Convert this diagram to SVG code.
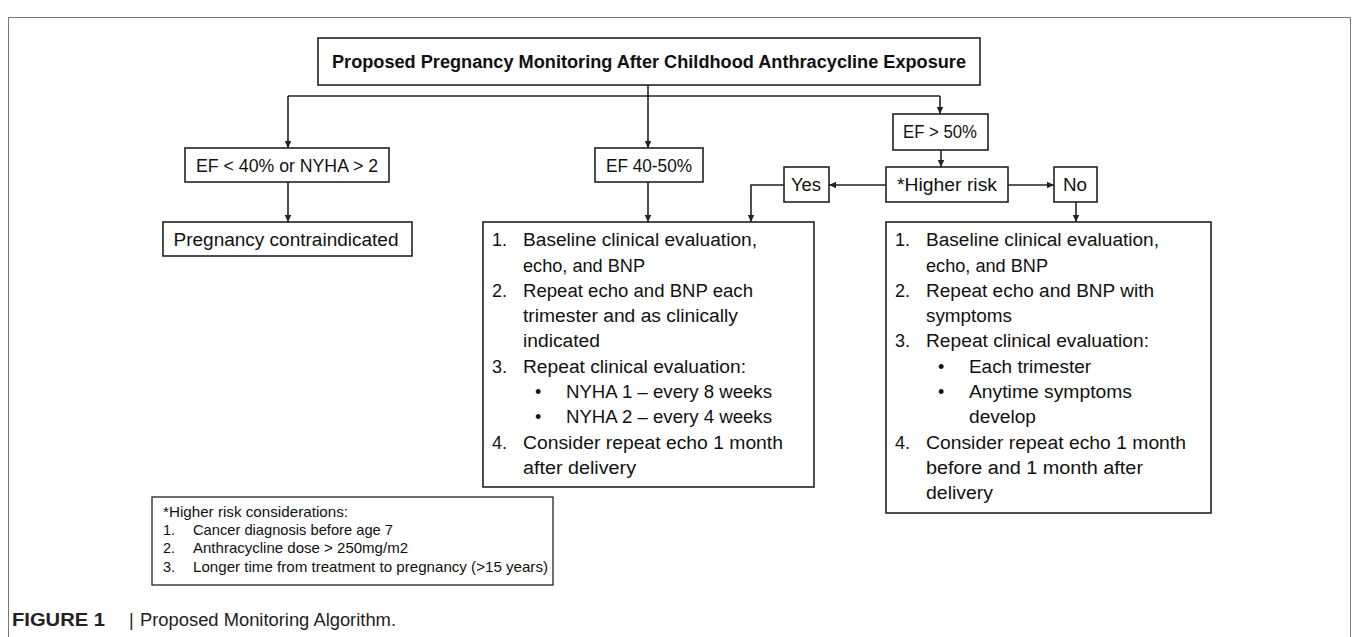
<svg xmlns="http://www.w3.org/2000/svg" width="1355" height="637" viewBox="0 0 1355 637">
<style>
.box{fill:#fff;stroke:#222;stroke-width:1.6}
.t{font-family:"Liberation Sans",Arial,sans-serif;font-size:18px;fill:#111}
.tc{text-anchor:middle}
.b{font-weight:bold}
.lg{font-family:"Liberation Sans",Arial,sans-serif;font-size:14.5px;fill:#111}
.cap{font-family:"Liberation Sans",Arial,sans-serif;font-size:18px;fill:#222}
.conn{fill:none;stroke:#222;stroke-width:1.6}
</style>
<defs>
<marker id="ah" markerUnits="userSpaceOnUse" markerWidth="8" markerHeight="8" refX="7" refY="4" orient="auto">
<path d="M0,0.8 L7,4 L0,7.2 z" fill="#222"/>
</marker>
</defs>
<rect width="1355" height="637" fill="#fff"/>
<path d="M8.5,640 V17.5 H1350.5 V640" fill="none" stroke="#777" stroke-width="1"/>

<g id="title">
<rect class="box" x="318" y="38" width="662" height="47"/>
<text class="t tc b" x="649" y="68" font-size="19" textLength="634" lengthAdjust="spacingAndGlyphs">Proposed Pregnancy Monitoring After Childhood Anthracycline Exposure</text>
</g>

<g id="ef-low">
<rect class="box" x="185" y="148" width="204" height="34"/>
<text class="t tc" x="287" y="172" textLength="182" lengthAdjust="spacingAndGlyphs">EF &lt; 40% or NYHA &gt; 2</text>
</g>

<g id="contraindicated">
<rect class="box" x="163" y="222" width="249" height="34"/>
<text class="t tc" x="286" y="246" textLength="225" lengthAdjust="spacingAndGlyphs">Pregnancy contraindicated</text>
</g>

<g id="ef-mid">
<rect class="box" x="595" y="148" width="108" height="34"/>
<text class="t tc" x="649" y="172" textLength="86" lengthAdjust="spacingAndGlyphs">EF 40-50%</text>
</g>

<g id="ef-high">
<rect class="box" x="893" y="114" width="95" height="36"/>
<text class="t tc" x="940" y="138" textLength="74" lengthAdjust="spacingAndGlyphs">EF &gt; 50%</text>
</g>

<g id="higher-risk">
<rect class="box" x="886" y="167" width="122" height="35"/>
<text class="t tc" x="947" y="191" textLength="100" lengthAdjust="spacingAndGlyphs">*Higher risk</text>
</g>

<g id="yes">
<rect class="box" x="784" y="167" width="45" height="35"/>
<text class="t tc" x="806" y="191" textLength="30" lengthAdjust="spacingAndGlyphs">Yes</text>
</g>

<g id="no">
<rect class="box" x="1054" y="167" width="43" height="35"/>
<text class="t tc" x="1075" y="191" textLength="24" lengthAdjust="spacingAndGlyphs">No</text>
</g>

<g id="plan-mid">
<rect class="box" x="483" y="222" width="331" height="265"/>
<g class="t">
<text x="492" y="246">1.</text><text x="523" y="246" textLength="234" lengthAdjust="spacingAndGlyphs">Baseline clinical evaluation,</text>
<text x="523" y="272" textLength="122" lengthAdjust="spacingAndGlyphs">echo, and BNP</text>
<text x="492" y="297">2.</text><text x="523" y="297" textLength="230" lengthAdjust="spacingAndGlyphs">Repeat echo and BNP each</text>
<text x="523" y="322" textLength="215" lengthAdjust="spacingAndGlyphs">trimester and as clinically</text>
<text x="523" y="347" textLength="77" lengthAdjust="spacingAndGlyphs">indicated</text>
<text x="492" y="373">3.</text><text x="523" y="373" textLength="223" lengthAdjust="spacingAndGlyphs">Repeat clinical evaluation:</text>
<text x="535" y="398">•</text><text x="566" y="398" textLength="206" lengthAdjust="spacingAndGlyphs">NYHA 1 – every 8 weeks</text>
<text x="535" y="423">•</text><text x="566" y="423" textLength="206" lengthAdjust="spacingAndGlyphs">NYHA 2 – every 4 weeks</text>
<text x="492" y="449">4.</text><text x="523" y="449" textLength="260" lengthAdjust="spacingAndGlyphs">Consider repeat echo 1 month</text>
<text x="523" y="474" textLength="113" lengthAdjust="spacingAndGlyphs">after delivery</text>
</g>
</g>

<g id="plan-right">
<rect class="box" x="886" y="222" width="325" height="291"/>
<g class="t">
<text x="895" y="246">1.</text><text x="926" y="246" textLength="233" lengthAdjust="spacingAndGlyphs">Baseline clinical evaluation,</text>
<text x="926" y="272" textLength="122" lengthAdjust="spacingAndGlyphs">echo, and BNP</text>
<text x="895" y="297">2.</text><text x="926" y="297" textLength="228" lengthAdjust="spacingAndGlyphs">Repeat echo and BNP with</text>
<text x="926" y="322" textLength="86" lengthAdjust="spacingAndGlyphs">symptoms</text>
<text x="895" y="347">3.</text><text x="926" y="347" textLength="223" lengthAdjust="spacingAndGlyphs">Repeat clinical evaluation:</text>
<text x="938" y="373">•</text><text x="969" y="373" textLength="122" lengthAdjust="spacingAndGlyphs">Each trimester</text>
<text x="938" y="398">•</text><text x="969" y="398" textLength="163" lengthAdjust="spacingAndGlyphs">Anytime symptoms</text>
<text x="969" y="423" textLength="67" lengthAdjust="spacingAndGlyphs">develop</text>
<text x="895" y="449">4.</text><text x="926" y="449" textLength="260" lengthAdjust="spacingAndGlyphs">Consider repeat echo 1 month</text>
<text x="926" y="474" textLength="217" lengthAdjust="spacingAndGlyphs">before and 1 month after</text>
<text x="926" y="499" textLength="67" lengthAdjust="spacingAndGlyphs">delivery</text>
</g>
</g>

<g id="legend">
<rect x="152" y="497" width="401" height="88" fill="#fff" stroke="#222" stroke-width="1.3"/>
<g class="lg">
<text x="163" y="517" textLength="185" lengthAdjust="spacingAndGlyphs">*Higher risk considerations:</text>
<text x="163" y="535">1.</text><text x="193" y="535" textLength="200" lengthAdjust="spacingAndGlyphs">Cancer diagnosis before age 7</text>
<text x="163" y="553">2.</text><text x="193" y="553" textLength="215" lengthAdjust="spacingAndGlyphs">Anthracycline dose &gt; 250mg/m2</text>
<text x="163" y="572">3.</text><text x="193" y="572" textLength="355" lengthAdjust="spacingAndGlyphs">Longer time from treatment to pregnancy (&gt;15 years)</text>
</g>
</g>

<g id="caption">
<text class="cap b" x="12" y="626" textLength="93" lengthAdjust="spacingAndGlyphs">FIGURE 1</text>
<text class="cap" x="129" y="626">|</text>
<text class="cap" x="140" y="626" textLength="256" lengthAdjust="spacingAndGlyphs">Proposed Monitoring Algorithm.</text>
</g>

<g id="connectors">
<path class="conn" d="M648,85 V148" marker-end="url(#ah)"/>
<path class="conn" d="M288,96 H940"/>
<path class="conn" d="M288,96 V148" marker-end="url(#ah)"/>
<path class="conn" d="M940,96 V114" marker-end="url(#ah)"/>
<path class="conn" d="M288,182 V222" marker-end="url(#ah)"/>
<path class="conn" d="M648,182 V222" marker-end="url(#ah)"/>
<path class="conn" d="M941,150 V167" marker-end="url(#ah)"/>
<path class="conn" d="M886,185 H829" marker-end="url(#ah)"/>
<path class="conn" d="M784,185 H751 V222" marker-end="url(#ah)"/>
<path class="conn" d="M1008,185 H1054" marker-end="url(#ah)"/>
<path class="conn" d="M1076,202 V222" marker-end="url(#ah)"/>
</g>
</svg>
